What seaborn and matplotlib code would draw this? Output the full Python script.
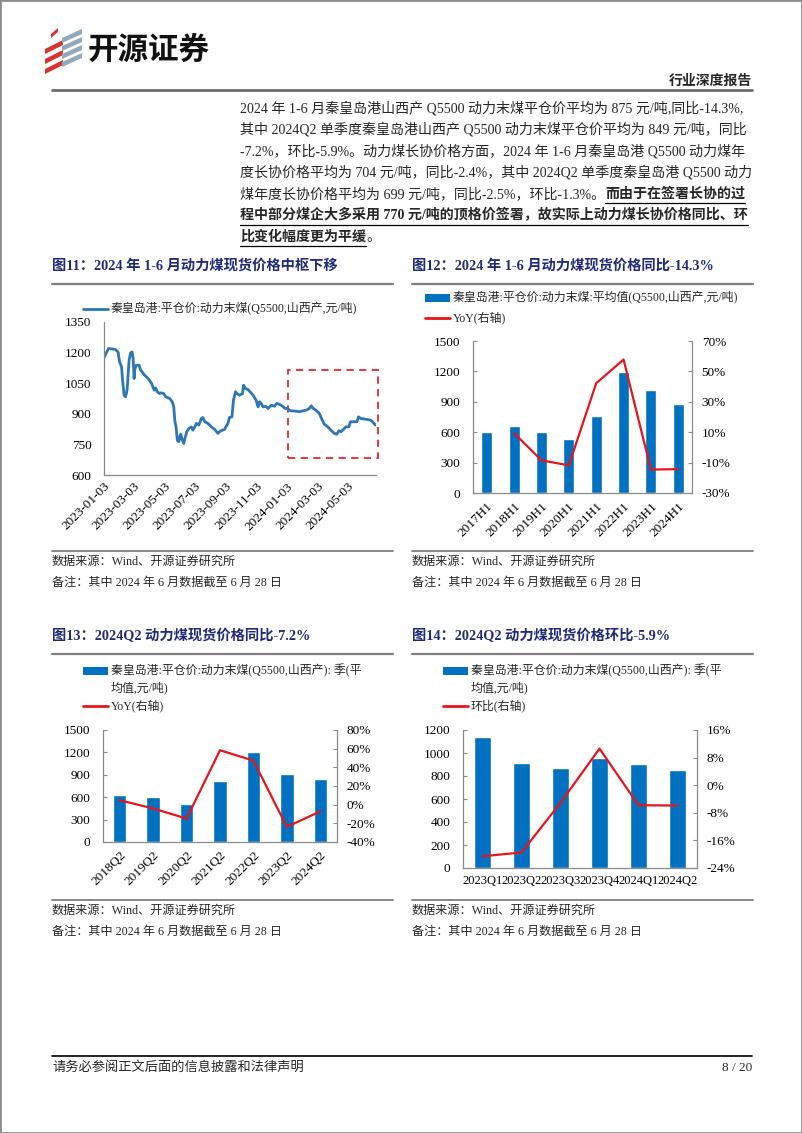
import numpy as np
import pandas as pd
import matplotlib
matplotlib.use('Agg')
import matplotlib.pyplot as plt
import matplotlib.dates as mdates
from matplotlib.patches import Rectangle, Polygon
from matplotlib.lines import Line2D
import seaborn as sns

sns.set_style('white')
plt.rcParams['font.family'] = ['Liberation Serif', 'Noto Sans CJK SC']
plt.rcParams['axes.unicode_minus'] = False

W, H = 802, 1133

# ---- data ----
spot_dates = ['2023-01-03', '2023-01-12', '2023-01-25', '2023-01-31', '2023-02-03', '2023-02-07', '2023-02-09',
              '2023-02-12', '2023-02-15', '2023-02-18', '2023-02-22', '2023-02-25', '2023-02-28', '2023-03-02',
              '2023-03-04', '2023-03-05', '2023-03-08', '2023-03-14', '2023-03-17', '2023-03-25', '2023-04-01',
              '2023-04-08', '2023-04-13', '2023-04-16', '2023-04-19', '2023-04-24', '2023-04-27', '2023-05-02',
              '2023-05-06', '2023-05-14', '2023-05-19', '2023-05-22', '2023-05-24', '2023-05-27', '2023-05-29',
              '2023-06-01', '2023-06-03', '2023-06-05', '2023-06-08', '2023-06-11', '2023-06-14', '2023-06-17',
              '2023-06-21', '2023-06-26', '2023-06-29', '2023-07-03', '2023-07-06', '2023-07-11', '2023-07-16',
              '2023-07-19', '2023-07-23', '2023-07-29', '2023-08-05', '2023-08-11', '2023-08-18', '2023-08-21',
              '2023-08-27', '2023-08-31', '2023-09-07', '2023-09-10', '2023-09-15', '2023-09-18', '2023-09-22',
              '2023-09-25', '2023-09-30', '2023-10-06', '2023-10-08', '2023-10-12', '2023-10-17', '2023-10-21',
              '2023-10-27', '2023-11-02', '2023-11-06', '2023-11-09', '2023-11-12', '2023-11-16', '2023-11-21',
              '2023-11-26', '2023-12-02', '2023-12-09', '2023-12-13', '2023-12-19', '2023-12-25', '2023-12-30',
              '2024-01-04', '2024-01-09', '2024-01-21', '2024-01-27', '2024-02-10', '2024-02-16', '2024-02-20',
              '2024-02-24', '2024-02-29', '2024-03-07', '2024-03-13', '2024-03-17', '2024-03-24', '2024-03-30',
              '2024-04-06', '2024-04-11', '2024-04-15', '2024-04-19', '2024-04-24', '2024-04-29', '2024-05-05',
              '2024-05-08', '2024-05-16', '2024-05-21', '2024-05-24', '2024-05-29', '2024-06-11', '2024-06-17',
              '2024-06-21', '2024-06-27']
spot_price = [1176, 1220, 1216, 1203, 1154, 1130, 1065, 991, 983, 1016,
              1163, 1198, 1203, 1171, 1073, 1114, 1138, 1138, 1114, 1089,
              1073, 1048, 1016, 1027, 1008, 999, 1003, 999, 983, 975,
              959, 934, 869, 828, 771, 763, 787, 800, 771, 755,
              787, 812, 828, 836, 820, 836, 853, 845, 877, 882,
              861, 853, 836, 825, 804, 812, 820, 823, 853, 882,
              885, 967, 1008, 999, 991, 999, 1040, 1024, 1019, 1008,
              991, 967, 934, 959, 951, 934, 937, 926, 942, 937,
              951, 946, 937, 926, 926, 915, 913, 910, 918, 926,
              939, 926, 918, 902, 869, 849, 836, 820, 804, 800,
              817, 812, 823, 836, 836, 861, 861, 861, 885, 877,
              872, 869, 861, 845]
spot_ticks = ['2023-01-03', '2023-03-03', '2023-05-03', '2023-07-03', '2023-09-03',
              '2023-11-03', '2024-01-03', '2024-03-03', '2024-05-03']
# highlighted window (dashed box)
box_start, box_end = '2024-01-04', '2024-07-01'
box_low, box_high = 685, 1114

h1_labels = ['2017H1', '2018H1', '2019H1', '2020H1', '2021H1', '2022H1', '2023H1', '2024H1']
h1_price = [605, 662, 606, 533, 758, 1196, 1021, 875]
h1_yoy = [9.4, -8.5, -11.8, 42.2, 57.8, -14.6, -14.3]  # from 2018H1

q2_labels = ['2018Q2', '2019Q2', '2020Q2', '2021Q2', '2022Q2', '2023Q2', '2024Q2']
q2_price = [631, 605, 515, 815, 1200, 915, 849]
q2_yoy = [4.8, -4.1, -14.9, 58.3, 47.2, -23.8, -7.2]

qq_labels = ['2023Q1', '2023Q2', '2023Q3', '2023Q4', '2024Q1', '2024Q2']
qq_price = [1136, 915, 868, 960, 904, 849]
qq_qoq = [-20.6, -19.5, -5.1, 10.6, -5.8, -5.9]

BLUE_BAR = '#0070C0'
BLUE_LINE = '#2E75B6'
RED = '#E8141B'
NAVY = '#1F2A78'
GRAY = '#8A8A8A'

fig = plt.figure(figsize=(W / 100, H / 100), dpi=100)


def fx(x):
    return x / W


def fy(y):
    return 1 - y / H


def add_ax(l, t, r, b):
    return fig.add_axes([fx(l), fy(b), (r - l) / W, (b - t) / H])


def ftext(x, y, s, **kw):
    kw.setdefault('va', 'center')
    return fig.text(fx(x), fy(y), s, **kw)


def hline(x0, x1, y, color='#808080', lw=1.5):
    fig.add_artist(Line2D([fx(x0), fx(x1)], [fy(y), fy(y)], color=color, lw=lw))


def poly(pts, color):
    fig.add_artist(Polygon([(fx(x), fy(y)) for x, y in pts], closed=True,
                           transform=fig.transFigure, facecolor=color, edgecolor='none'))


# ---- page frame, header ----
fig.add_artist(Rectangle((0, 0), 1, 1, transform=fig.transFigure, fill=False, edgecolor='#8c8c8c', lw=2))

# logo stripes
poly([(51, 34), (58, 28), (58, 32), (51, 38)], '#D9332B')
for k in range(3):
    poly([(45, 49 + 10 * k), (63, 40 + 10 * k), (63, 45 + 10 * k), (45, 54 + 10 * k)], '#D9332B')
for k in range(4):
    poly([(62, 38 + 8 * k), (82, 29 + 8 * k), (82, 34 + 8 * k), (62, 43 + 8 * k)], '#93AAB9')
ftext(88, 50, '开源证券', fontsize=22, weight='bold', family='Noto Sans CJK SC', color='#111111')

ftext(752, 81, '行业深度报告', fontsize=10, weight='bold', ha='right')
hline(52, 752, 90, color='#6b6b6b', lw=2)

# ---- paragraph ----
para = [
    '2024 年 1-6 月秦皇岛港山西产 Q5500 动力末煤平仓价平均为 875 元/吨,同比-14.3%,',
    '其中 2024Q2 单季度秦皇岛港山西产 Q5500 动力末煤平仓价平均为 849 元/吨，同比',
    '-7.2%，环比-5.9%。动力煤长协价格方面，2024 年 1-6 月秦皇岛港 Q5500 动力煤年',
    '度长协价格平均为 704 元/吨，同比-2.4%，其中 2024Q2 单季度秦皇岛港 Q5500 动力',
]
PFS = 10.1
for i, s in enumerate(para):
    ftext(240, 108 + 21.5 * i, s, fontsize=PFS)

renderer = fig.canvas.get_renderer()


def underline(t, y):
    bb = t.get_window_extent(renderer)
    hline(bb.x0, bb.x1, y + 9, color='black', lw=0.9)


y5 = 108 + 21.5 * 4
t5 = ftext(240, y5, '煤年度长协价格平均为 699 元/吨，同比-2.5%，环比-1.3%。', fontsize=PFS)
x5 = t5.get_window_extent(renderer).x1
b5 = ftext(x5, y5, '而由于在签署长协的过', fontsize=PFS, weight='bold')
underline(b5, y5)
y6 = 108 + 21.5 * 5
b6 = ftext(240, y6, '程中部分煤企大多采用 770 元/吨的顶格价签署，故实际上动力煤长协价格同比、环',
           fontsize=PFS, weight='bold')
underline(b6, y6)
y7 = 108 + 21.5 * 6
b7 = ftext(240, y7, '比变化幅度更为平缓', fontsize=PFS, weight='bold')
underline(b7, y7)
ftext(b7.get_window_extent(renderer).x1, y7, '。', fontsize=PFS)

# ---- section titles / sources ----
titles = [(52, 266, '图11：2024 年 1-6 月动力煤现货价格中枢下移'),
          (412, 266, '图12：2024 年 1-6 月动力煤现货价格同比-14.3%'),
          (52, 636, '图13：2024Q2 动力煤现货价格同比-7.2%'),
          (412, 636, '图14：2024Q2 动力煤现货价格环比-5.9%')]
for x, y, s in titles:
    ftext(x, y, s, fontsize=10.3, weight='bold', color=NAVY)
    hline(x, x + 341, y + 18, color='#7f7f7f', lw=1.6)

for x in (52, 412):
    for y in (551, 900):
        hline(x, x + 341, y, color='#7f7f7f', lw=1.3)
        ftext(x, y + 11, '数据来源：Wind、开源证券研究所', fontsize=8.7)
        ftext(x, y + 32, '备注：其中 2024 年 6 月数据截至 6 月 28 日', fontsize=8.7)

# ---- footer ----
hline(52, 752, 1056, color='black', lw=1.2)
ftext(52, 1068, '请务必参阅正文后面的信息披露和法律声明', fontsize=9.5)
ftext(752, 1068, '8 / 20', fontsize=9.5, ha='right')


def style_axis(ax, right=False):
    for sp in ax.spines.values():
        sp.set_color(GRAY)
        sp.set_linewidth(0.9)
    ax.spines['top'].set_visible(False)
    if not right:
        ax.spines['right'].set_visible(False)
    ax.tick_params(direction='in', length=3, width=0.8, color=GRAY, labelcolor='black', labelsize=9.5)
    ax.set_xlabel('')
    ax.set_ylabel('')
    ax.set_facecolor('none')


def bar_chart(ax, labels, price, rates, first, ylim, ystep, rlim, rstep, width, rotate):
    n = len(labels)
    sns.barplot(x=labels, y=price, color=BLUE_BAR, saturation=1, width=width, ax=ax)
    axr = ax.twinx()
    sns.lineplot(x=np.arange(first, n), y=rates, color=RED, lw=1.6, ax=axr)
    ax.set_xlim(-0.5, n - 0.5)
    ax.set_ylim(*ylim)
    ax.set_yticks(np.arange(ylim[0], ylim[1] + 1, ystep))
    axr.set_ylim(*rlim)
    rt = np.arange(rlim[0], rlim[1] + 1, rstep)
    axr.set_yticks(rt)
    axr.set_yticklabels([f'{v}%' for v in rt])
    style_axis(ax)
    style_axis(axr, right=True)
    axr.spines['left'].set_visible(False)
    axr.spines['bottom'].set_visible(False)
    ax.tick_params(axis='y', pad=9)
    axr.tick_params(axis='y', pad=7)
    ax.set_xticks(np.arange(n))
    ax.set_xticks(np.arange(1, n) - 0.5, minor=True)
    ax.tick_params(axis='x', which='major', length=0, pad=5)
    ax.tick_params(axis='x', which='minor', direction='in', length=3, color=GRAY)
    if rotate:
        ax.set_xticklabels(labels, rotation=45, ha='right', rotation_mode='anchor')
    else:
        ax.set_xticklabels(labels, fontsize=9)
    return axr


def legend_block(x, y, entries):
    for kind, yy, lines in entries:
        if kind == 'bar':
            fig.add_artist(Rectangle((fx(x), fy(yy + 4)), 25 / W, 8 / H, transform=fig.transFigure,
                                     facecolor=BLUE_BAR, edgecolor='none'))
        else:
            col = BLUE_LINE if kind == 'blue' else RED
            fig.add_artist(Line2D([fx(x), fx(x + 25)], [fy(yy), fy(yy)], color=col, lw=2))
        for j, s in enumerate(lines):
            ftext(x + 28, yy + 16.5 * j, s, fontsize=8.6)


# ---- chart 11: spot price line ----
spot = pd.DataFrame({'date': pd.to_datetime(spot_dates), 'price': spot_price})
ax1 = add_ax(104, 322, 376, 475)
sns.lineplot(data=spot, x='date', y='price', ax=ax1, color=BLUE_LINE, lw=2)
ax1.set_xlim(pd.Timestamp('2023-01-03'), pd.Timestamp('2024-06-28'))
ax1.set_ylim(600, 1350)
ax1.set_yticks(np.arange(600, 1351, 150))
tk = pd.to_datetime(spot_ticks)
ax1.set_xticks(tk)
ax1.set_xticklabels([d.strftime('%Y-%m-%d') for d in tk], rotation=45, ha='right', rotation_mode='anchor')
style_axis(ax1)
ax1.tick_params(axis='y', pad=9)
ax1.tick_params(axis='x', pad=4)
b0 = mdates.date2num(pd.Timestamp(box_start))
b1 = mdates.date2num(pd.Timestamp(box_end))
ax1.add_patch(Rectangle((b0, box_low), b1 - b0, box_high - box_low, fill=False, edgecolor='#E8262A',
                        lw=1.3, ls=(0, (4, 3)), clip_on=False))
legend_block(83, 309, [('blue', 309, ['秦皇岛港:平仓价:动力末煤(Q5500,山西产,元/吨)'])])

# ---- chart 12 ----
ax2 = add_ax(473, 341, 692, 493)
bar_chart(ax2, h1_labels, h1_price, h1_yoy, 1, (0, 1500), 300, (-30, 70), 20, 0.4, True)
legend_block(425, 298, [('bar', 298, ['秦皇岛港:平仓价:动力末煤:平均值(Q5500,山西产,元/吨)']),
                        ('red', 318, ['YoY(右轴)'])])

# ---- chart 13 ----
ax3 = add_ax(103, 730, 337, 842)
bar_chart(ax3, q2_labels, q2_price, q2_yoy, 0, (0, 1500), 300, (-40, 80), 20, 0.4, True)
legend_block(83, 671, [('bar', 671, ['秦皇岛港:平仓价:动力末煤(Q5500,山西产): 季(平', '均值,元/吨)']),
                       ('red', 706, ['YoY(右轴)'])])

# ---- chart 14 ----
ax4 = add_ax(463, 730, 697, 868)
bar_chart(ax4, qq_labels, qq_price, qq_qoq, 0, (0, 1200), 200, (-24, 16), 8, 0.43, False)
legend_block(443, 671, [('bar', 671, ['秦皇岛港:平仓价:动力末煤(Q5500,山西产): 季(平', '均值,元/吨)']),
                        ('red', 706, ['环比(右轴)'])])

fig.savefig('out.png', dpi=100)
